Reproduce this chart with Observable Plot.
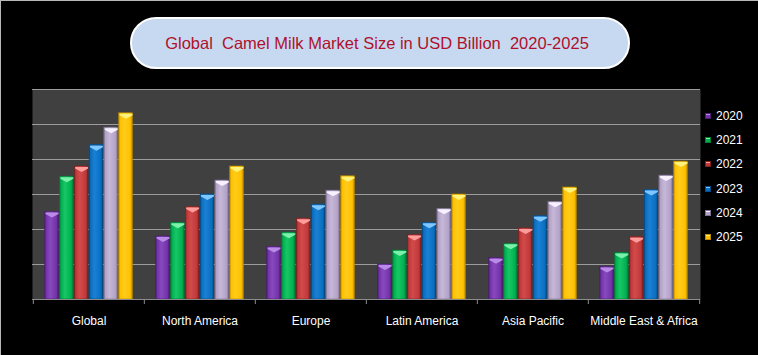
<!DOCTYPE html>
<html><head><meta charset="utf-8">
<script src="https://cdn.jsdelivr.net/npm/d3@7"></script>
<script src="https://cdn.jsdelivr.net/npm/@observablehq/plot@0.6"></script>
<style>
html,body{margin:0;padding:0;background:#000;}
#wrap{position:relative;width:758px;height:355px;background:#000;overflow:hidden;font-family:"Liberation Sans",Arial,sans-serif;}
#edge{position:absolute;left:0;top:0;width:758px;height:355px;box-sizing:border-box;border-left:1px solid #b8b8b8;border-top:1px solid #b8b8b8;pointer-events:none;}
#title{position:absolute;left:130px;top:17px;width:500px;height:52px;box-sizing:border-box;border:2px solid #fff;border-radius:26px;background:#c6d9f1;color:#b0102a;font-size:16.5px;display:flex;align-items:center;justify-content:center;white-space:pre;padding-right:6px;}
#chart{position:absolute;left:0;top:0;}
#legend{position:absolute;left:705px;top:104px;}
.item{height:24.2px;display:flex;align-items:center;color:#fff;font-size:12px;}
.sw{width:6px;height:6px;margin-right:5px;box-sizing:border-box;}
</style>
</head><body>
<div id="wrap">
  <svg width="0" height="0" style="position:absolute"><defs id="defs"></defs></svg>
  <div id="chart"></div>
  <div id="title">Global  Camel Milk Market Size in USD Billion  2020-2025</div>
  <div id="legend"></div>
  <div id="edge"></div>
</div>
<script>
const regions = ["Global","North America","Europe","Latin America","Asia Pacific","Middle East & Africa"];
const years = ["2020","2021","2022","2023","2024","2025"];
const v2020 = [2.50,1.80,1.50,1.00,1.18,0.93];
const v2021 = [3.51,2.19,1.91,1.40,1.59,1.33];
const v2022 = [3.80,2.64,2.31,1.84,2.03,1.78];
const v2023 = [4.41,3.00,2.71,2.19,2.38,3.13];
const v2024 = [4.91,3.40,3.11,2.59,2.79,3.54];
const v2025 = [5.32,3.80,3.52,3.00,3.20,3.94];
const yTicks = [1,2,3,4,5,6];

const series = [v2020,v2021,v2022,v2023,v2024,v2025];
const rows = series.map(vals => regions.map((r,i) => ({region:r, value:vals[i]})));

// styling
const mainC = ["#7434a8","#00b050","#c0393a","#0b6fc0","#b3a2c7","#ffc000"];
const darkC = ["#4a1c72","#007a36","#7f2020","#054b85","#7f7191","#b88a00"];
const lightC= ["#8848bf","#18c665","#d24a4a","#1a80d4","#c6b8d8","#ffcc1a"];
const capC  = ["#b98ae6","#7af0aa","#ff9c9c","#80c6ff","#f6f0ff","#fff27a"];

const defs = document.getElementById("defs");
defs.innerHTML = mainC.map((m,j)=>`
 <linearGradient id="g${j}" x1="0" x2="1" y1="0" y2="0">
  <stop offset="0" stop-color="${darkC[j]}"/>
  <stop offset="0.12" stop-color="${m}"/>
  <stop offset="0.4" stop-color="${lightC[j]}"/>
  <stop offset="0.85" stop-color="${m}"/>
  <stop offset="1" stop-color="${darkC[j]}"/>
 </linearGradient>`).join("");

const W = 758, H = 355, mL = 32, mR = 58, mT = 89, mB = 56;
const bw = (W - mL - mR) / regions.length;
const barW = 14, step = 14.8;
const start = (bw - (5*step + barW)) / 2;

const chevron = {draw(ctx){ctx.moveTo(-6.5,0.5);ctx.lineTo(6.5,0.5);ctx.lineTo(6.5,2);ctx.lineTo(0,5.5);ctx.lineTo(-6.5,2);ctx.closePath();}};

const marks = [
  Plot.frame({fill:"#404040", stroke:"none"}),
  Plot.ruleY(yTicks, {y:d=>d, stroke:"#9c9c9c", strokeWidth:1}),
];
rows.forEach((data,j)=>{
  const L = start + j*step;
  const R = bw - L - barW;
  marks.push(Plot.barY(data, {x:"region", y:"value", fill:`url(#g${j})`, stroke:darkC[j], strokeWidth:0.6, insetLeft:L, insetRight:R}));
  marks.push(Plot.dot(data, {x:"region", y:"value", symbol:chevron, r:5, fill:capC[j], stroke:"none", dx: L + barW/2 - bw/2}));
});
marks.push(
  Plot.ruleY([0], {stroke:"#8c8c8c", strokeWidth:1}),
  Plot.ruleX(regions, {x:d=>d, y1:0, y2:-5/35, dx:-bw/2, stroke:"#8c8c8c"}),
  Plot.ruleX(regions.slice(-1), {x:d=>d, y1:0, y2:-5/35, dx:bw/2, stroke:"#8c8c8c"}),
  Plot.axisX({tickSize:0, tickPadding:17, label:null, fill:"#fff", fontSize:12})
);

const chart = Plot.plot({
  width:W, height:H, marginLeft:mL, marginRight:mR, marginTop:mT, marginBottom:mB,
  style:{background:"transparent", color:"#fff", fontFamily:'"Liberation Sans",Arial,sans-serif', fontSize:"12px"},
  x:{type:"band", domain:regions, padding:0, axis:null},
  y:{domain:[0,6], axis:null},
  marks
});
document.getElementById("chart").appendChild(chart);

const legend = document.getElementById("legend");
years.forEach((y,j)=>{
  const it = document.createElement("div");
  it.className="item";
  it.innerHTML = `<div class="sw" style="background:linear-gradient(180deg,${capC[j]} 0 35%,${mainC[j]} 35%);border:0.5px solid ${darkC[j]}"></div><span>${y}</span>`;
  legend.appendChild(it);
});
</script>
</body></html>
